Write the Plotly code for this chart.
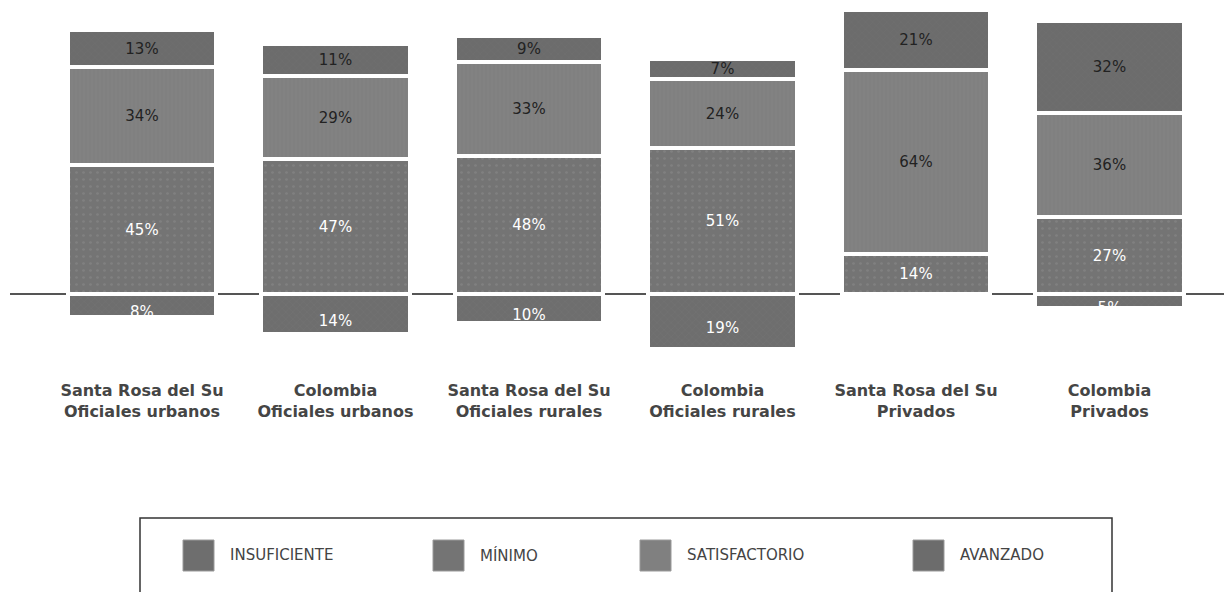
import plotly.graph_objects as go

categories = ["Santa Rosa del Su<br>Oficiales urbanos", "Colombia<br>Oficiales urbanos",
              "Santa Rosa del Su<br>Oficiales rurales", "Colombia<br>Oficiales rurales",
              "Santa Rosa del Su<br>Privados", "Colombia<br>Privados"]
insuficiente = [8, 14, 10, 19, 0, 5]
minimo = [45, 47, 48, 51, 14, 27]
satisfactorio = [34, 29, 33, 24, 64, 36]
avanzado = [13, 11, 9, 7, 21, 32]
series_names = ["INSUFICIENTE", "MÍNIMO", "SATISFACTORIO", "AVANZADO"]

colors = ["#6e6e6e", "#747474", "#808080", "#6c6c6c"]
text_colors = ["white", "white", "#222222", "#222222"]
patterns = [dict(shape="x", fgcolor="#7a7a7a", size=5, solidity=0.15),
            dict(shape=".", fgcolor="#8c8c8c", size=7, solidity=0.12),
            dict(shape="|", fgcolor="#8a8a8a", size=4, solidity=0.2),
            dict(shape="x", fgcolor="#767676", size=5, solidity=0.12)]

FONT = "DejaVu Sans"
OFF = 8  # page body margin offset
W, H = 1232 - OFF, 592 - OFF
PLOT_X0, PLOT_X1 = 10, 1232          # screen px
PLOT_Y0, PLOT_Y1 = 8, 372            # screen px
L, R = PLOT_X0 - OFF, W - (PLOT_X1 - OFF)
T, B = PLOT_Y0 - OFF, H - (PLOT_Y1 - OFF)

xs = list(range(len(categories)))
fig = go.Figure()

pos_series = [minimo, satisfactorio, avanzado]
fig.add_trace(go.Bar(
    x=xs, y=[-v for v in insuficiente], name=series_names[0], width=0.765,
    marker=dict(color=colors[0], line=dict(color="white", width=4), pattern=patterns[0]),
    hoverinfo="skip"))
fig.add_trace(go.Scatter(
    x=xs, y=[-(v / 2 + 2.7) for v in insuficiente], mode="text",
    text=[f"{v}%" for v in insuficiente],
    textfont=dict(family=FONT, size=15, color=text_colors[0]), hoverinfo="skip"))

for i, vals in enumerate(pos_series, start=1):
    fig.add_trace(go.Bar(
        x=xs, y=vals, name=series_names[i], width=0.765,
        marker=dict(color=colors[i], line=dict(color="white", width=4), pattern=patterns[i]),
        text=[f"{v}%" for v in vals], textposition="inside", insidetextanchor="middle",
        textangle=0, textfont=dict(family=FONT, size=15, color=text_colors[i]),
        hoverinfo="skip"))

def px_x(p):
    return (p - PLOT_X0) / (PLOT_X1 - PLOT_X0)

def px_y(p):
    return (PLOT_Y1 - p) / (PLOT_Y1 - PLOT_Y0)

shapes = [dict(type="rect", xref="paper", yref="paper",
               x0=px_x(140), x1=px_x(1112), y0=px_y(610), y1=px_y(518),
               line=dict(color="#333333", width=1.5), fillcolor="rgba(0,0,0,0)")]
annotations = []
sq_left = [183, 433, 640, 913]
for i, name in enumerate(series_names):
    shapes.append(dict(type="rect", xref="paper", yref="paper",
                       x0=px_x(sq_left[i]), x1=px_x(sq_left[i] + 31),
                       y0=px_y(571), y1=px_y(540),
                       line=dict(color="#9a9a9a", width=1), fillcolor=colors[i]))
    annotations.append(dict(xref="paper", yref="paper", x=px_x(sq_left[i] + 45), y=px_y(555),
                            text=name, showarrow=False, xanchor="left", yanchor="middle",
                            font=dict(family=FONT, size=15, color="#444444")))

fig.update_layout(
    width=W, height=H, barmode="relative", bargap=0,
    margin=dict(l=L, r=R, t=T, b=B),
    plot_bgcolor="white", paper_bgcolor="white", showlegend=False,
    font=dict(family=FONT, color="#333333"),
    shapes=shapes, annotations=annotations,
    uniformtext=dict(minsize=15, mode="show"),
    xaxis=dict(range=[-0.682, 5.633], tickvals=xs, ticktext=categories,
               showgrid=False, zeroline=False, showline=False,
               ticks="outside", ticklen=4, tickcolor="white",
               tickfont=dict(family=FONT, size=16, color="#454545", weight="bold")),
    yaxis=dict(range=[-27.18, 99.65], showgrid=False, showticklabels=False,
               zeroline=True, zerolinecolor="#555555", zerolinewidth=2),
)

fig.write_html("out.html")
